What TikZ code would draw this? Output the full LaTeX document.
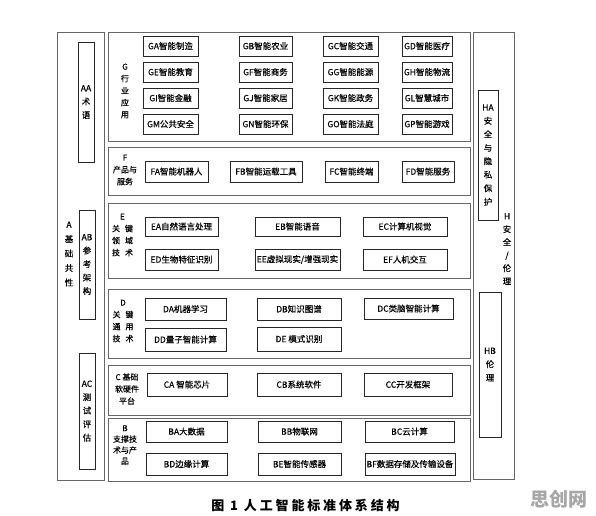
\documentclass[tikz,border=0pt]{standalone}
\usepackage{fontspec}
\newfontfamily\cjk[RawFeature={embolden=0.35}]{Noto Sans CJK SC}
\newfontfamily\wmfont{Noto Sans CJK SC}
\newfontfamily\capfont[LetterSpace=22]{Noto Sans CJK SC}
\tikzset{
  obox/.style={draw=black!60, line width=0.9pt, inner sep=0pt},
  ibox/.style={draw=black!85, line width=0.9pt, inner sep=0pt, font=\cjk\fontsize{8.5}{10}\selectfont},
  vbox/.style={ibox, align=center, font=\cjk\fontsize{8.5}{13.5}\selectfont},
  lbl/.style={inner sep=0pt, align=center, font=\cjk\fontsize{8}{12}\selectfont},
  biglbl/.style={inner sep=0pt, align=center, font=\cjk\fontsize{8.5}{14.5}\selectfont},
}
\newcommand\mybox[7][ibox]{\node[#1,minimum width={#5-#3},minimum height={#6-#4}] (#2) at ({(#3+#5)/2},{(#4+#6)/2}) {#7};}
\begin{document}
\begin{tikzpicture}[x=1pt,y=-1pt]
\useasboundingbox[fill=white] (0,0) rectangle (596,515);
% left column A
\mybox[obox]{A}{57}{32}{104}{480}{}
\mybox[vbox]{AA}{78}{42}{94}{162}{AA\\术\\语}
\mybox[vbox]{AB}{79}{210}{95}{319}{AB\\参\\考\\架\\构}
\mybox[vbox]{AC}{79}{353}{95}{469}{AC\\测\\试\\评\\估}
\node[biglbl] (Al) at (69,254) {A\\基\\础\\共\\性};
% right column H
\mybox[obox]{H}{473}{32}{514}{479}{}
\mybox[vbox]{HA}{478}{90}{498}{220}{HA\\安\\全\\与\\隐\\私\\保\\护}
\mybox[vbox]{HB}{479}{292}{501}{437}{HB\\伦\\理}
\node[inner sep=0pt, align=center, font=\cjk\fontsize{8.5}{13}\selectfont] (Hl) at (507,249) {H\\安\\全\\/\\伦\\理};
% G
\mybox[obox]{G}{108}{32}{470}{141}{}
\node[lbl] (Gl) at (125,91) {G\\行\\业\\应\\用};
\mybox{GA}{143}{36}{198}{56}{GA智能制造}
\mybox{GB}{239}{36}{292}{56}{GB智能农业}
\mybox{GC}{323}{36}{378}{56}{GC智能交通}
\mybox{GD}{402}{36}{452}{56}{GD智能医疗}
\mybox{GE}{143}{62}{198}{82}{GE智能教育}
\mybox{GF}{239}{62}{292}{82}{GF智能商务}
\mybox{GG}{323}{62}{378}{82}{GG智能能源}
\mybox{GH}{402}{62}{452}{82}{GH智能物流}
\mybox{GI}{143}{88}{198}{108}{GI智能金融}
\mybox{GJ}{239}{88}{292}{108}{GJ智能家居}
\mybox{GK}{323}{88}{378}{108}{GK智能政务}
\mybox{GL}{402}{88}{452}{108}{GL智慧城市}
\mybox{GM}{143}{114}{198}{134}{GM公共安全}
\mybox{GN}{239}{114}{292}{134}{GN智能环保}
\mybox{GO}{323}{114}{378}{134}{GO智能法庭}
\mybox{GP}{402}{114}{452}{134}{GP智能游戏}
% F
\mybox[obox]{F}{108}{147}{470}{195}{}
\node[lbl] (Fl) at (125,170) {F\\产品与\\服务};
\mybox{FA}{145}{161}{208}{182}{FA智能机器人}
\mybox{FB}{230}{161}{302}{182}{FB智能运载工具}
\mybox{FC}{325}{161}{378}{182}{FC智能终端}
\mybox{FD}{402}{161}{454}{182}{FD智能服务}
% E
\mybox[obox]{E}{108}{203}{470}{278}{}
\node[lbl] (El) at (122.5,235) {E\\关\hspace{5pt}键\\领\hspace{5pt}域\\技\hspace{5pt}术};
\mybox{EA}{145}{217}{218}{236}{EA自然语言处理}
\mybox{EB}{255}{217}{340}{236}{EB智能语音}
\mybox{EC}{363}{217}{447}{236}{EC计算机视觉}
\mybox{ED}{145}{249}{218}{270}{ED生物特征识别}
\mybox{EE}{255}{249}{340}{270}{EE虚拟现实/增强现实}
\mybox{EF}{363}{249}{447}{270}{EF人机交互}
% D
\mybox[obox]{D}{108}{289}{470}{358}{}
\node[lbl] (Dl) at (123,321) {D\\关\hspace{5pt}键\\通\hspace{5pt}用\\技\hspace{5pt}术};
\mybox{DA}{145}{298}{226}{320}{DA机器学习}
\mybox{DB}{257}{298}{341}{320}{DB知识图谱}
\mybox{DC}{364}{298}{453}{319}{DC类脑智能计算}
\mybox{DD}{145}{328}{226}{351}{DD量子智能计算}
\mybox{DE}{257}{327}{341}{351}{DE 模式识别}
% C
\mybox[obox]{C}{108}{365}{470}{415}{}
\node[lbl] (Cl) at (127,389) {C 基础\\软硬件\\平台};
\mybox{CA}{147}{373}{227}{396}{CA 智能芯片}
\mybox{CB}{257}{373}{341}{396}{CB系统软件}
\mybox{CC}{364}{373}{452}{396}{CC开发框架}
% B
\mybox[obox]{B}{108}{418}{470}{481}{}
\node[inner sep=0pt, align=center, font=\cjk\fontsize{8}{11}\selectfont] (Bl) at (125,445) {B\\支撑技\\术与产\\品};
\mybox{BA}{146}{421}{227}{442}{BA大数据}
\mybox{BB}{258}{421}{341}{442}{BB物联网}
\mybox{BC}{365}{421}{454}{442}{BC云计算}
\mybox{BD}{146}{453}{227}{475}{BD边缘计算}
\mybox{BE}{258}{453}{341}{475}{BE智能传感器}
\mybox{BF}{365}{453}{455}{475}{BF数据存储及传输设备}
% caption and watermark
\node[inner sep=0pt, font=\capfont\bfseries\fontsize{13}{13}\selectfont] (cap) at (305.5,505) {图 1 人工智能标准体系结构};
\node[inner sep=0pt, text=black!35, font=\wmfont\bfseries\fontsize{19}{19}\selectfont] (wm) at (559,499) {思创网};
\end{tikzpicture}
\end{document}
